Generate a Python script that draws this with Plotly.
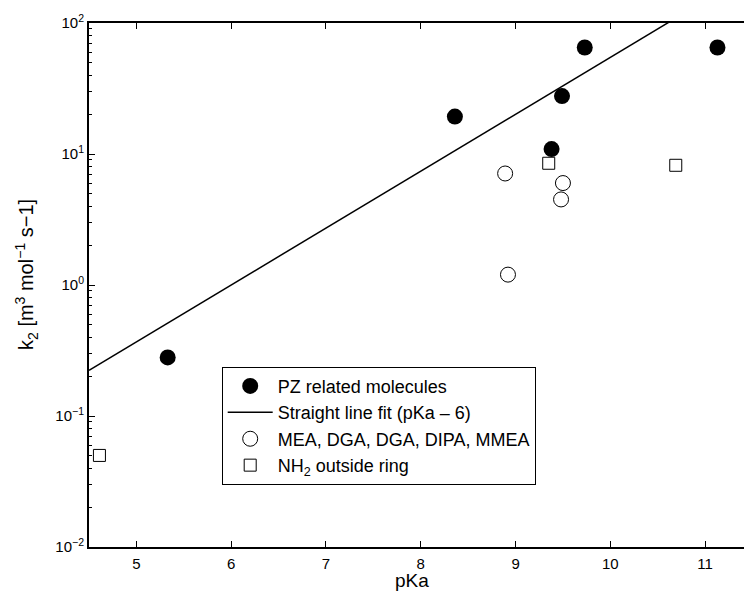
import plotly.graph_objects as go

# ---- data ----
pz_pka = [5.33, 8.36, 9.38, 9.49, 9.73, 11.13]
pz_k2 = [0.28, 19.3, 10.9, 27.7, 65, 65]

fit_pka = [4.5, 11.41]
fit_k2 = [0.223, 224.0]

mea_pka = [8.89, 9.50, 9.48, 8.92]
mea_k2 = [7.1, 6.0, 4.5, 1.2]

nh2_pka = [9.35, 10.69, 4.61]
nh2_k2 = [8.5, 8.2, 0.05]

ytick_vals = [0.01, 0.1, 1, 10, 100]
ytick_text = ["10<sup>−2</sup>", "10<sup>−1</sup>", "10<sup>0</sup>", "10<sup>1</sup>", "10<sup>2</sup>"]
xtick_vals = [5, 6, 7, 8, 9, 10, 11]

FONT = "Liberation Sans, Arial, sans-serif"

fig = go.Figure()
fig.add_trace(go.Scatter(
    x=pz_pka, y=pz_k2, mode="markers", name="PZ related molecules",
    marker=dict(symbol="circle", size=16, color="black", line=dict(width=0)),
))
fig.add_trace(go.Scatter(
    x=fit_pka, y=fit_k2, mode="lines", name="Straight line fit (pKa – 6)",
    line=dict(color="black", width=1.5),
))
fig.add_trace(go.Scatter(
    x=mea_pka, y=mea_k2, mode="markers", name="MEA, DGA, DGA, DIPA, MMEA",
    marker=dict(symbol="circle", size=15, color="white", line=dict(color="black", width=1)),
))
fig.add_trace(go.Scatter(
    x=nh2_pka, y=nh2_k2, mode="markers", name="NH<sub>2</sub> outside ring",
    marker=dict(symbol="square", size=12, color="white", line=dict(color="black", width=1)),
))

minor_vals = []
for dec in [0.01, 0.1, 1, 10]:
    for m in range(2, 10):
        minor_vals.append(dec * m)

fig.update_layout(
    width=744, height=592,
    margin=dict(l=89, r=0, t=23, b=45),
    paper_bgcolor="white", plot_bgcolor="white",
    font=dict(family=FONT, color="black", size=15),
    showlegend=True,
    legend=dict(
        x=0.2026, y=0.344, xanchor="left", yanchor="top",
        bordercolor="black", borderwidth=1, bgcolor="white",
        font=dict(family=FONT, size=18, color="black"),
        itemwidth=45, tracegroupgap=0,
    ),
    xaxis=dict(
        range=[4.5, 11.41], tickvals=xtick_vals,
        ticks="inside", ticklen=6, tickwidth=1, tickcolor="black",
        showline=True, linecolor="black", linewidth=2, mirror="ticks",
        showgrid=False, zeroline=False, ticklabelstandoff=2,
        tickfont=dict(family=FONT, size=15, color="black"),
    ),
    yaxis=dict(
        type="log", range=[-2, 2], tickvals=ytick_vals, ticktext=ytick_text,
        ticks="inside", ticklen=6, tickwidth=1, tickcolor="black",
        showline=True, linecolor="black", linewidth=2, mirror=False,
        showgrid=False, zeroline=False,
        tickfont=dict(family=FONT, size=15, color="black"),
        minor=dict(tickvals=minor_vals, ticks="inside", ticklen=3, tickcolor="black", showgrid=False),
    ),
    annotations=[
        dict(text="k<sub>2</sub> [m<sup>3</sup> mol<sup>−1</sup> s−1]", textangle=-90,
             xref="paper", yref="paper", x=-0.0947, y=0.521,
             xanchor="center", yanchor="middle", showarrow=False,
             font=dict(family=FONT, size=20, color="black")),
        dict(text="pKa", xref="paper", yref="paper", x=0.4927, y=-0.0635,
             xanchor="center", yanchor="middle", showarrow=False,
             font=dict(family=FONT, size=19, color="black")),
    ],
)

fig.write_html("out.html")
